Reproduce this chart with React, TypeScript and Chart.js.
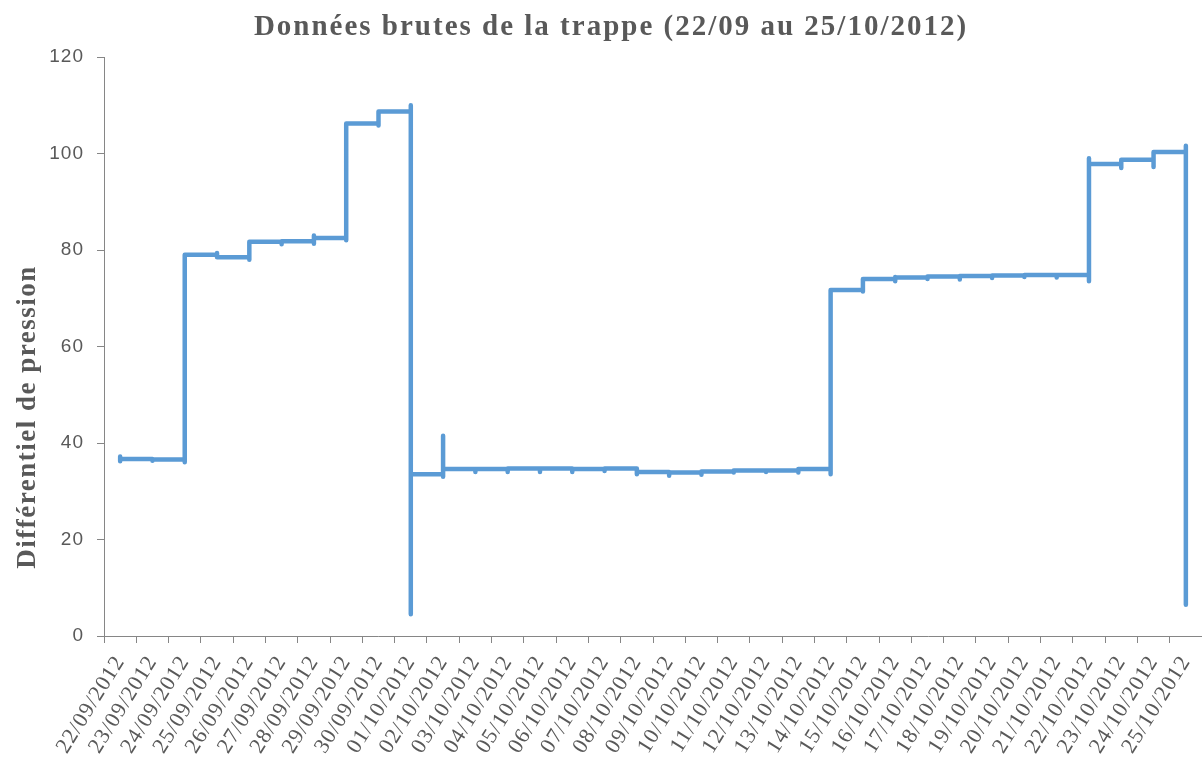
import React, { useEffect, useRef } from "react";
import { Chart, registerables } from "chart.js";

Chart.register(...registerables);

const chartTitle = "Données brutes de la trappe (22/09 au 25/10/2012)";
const yAxisTitle = "Différentiel de pression";

const dayLabels = [
  "22/09/2012", "23/09/2012", "24/09/2012", "25/09/2012", "26/09/2012",
  "27/09/2012", "28/09/2012", "29/09/2012", "30/09/2012", "01/10/2012",
  "02/10/2012", "03/10/2012", "04/10/2012", "05/10/2012", "06/10/2012",
  "07/10/2012", "08/10/2012", "09/10/2012", "10/10/2012", "11/10/2012",
  "12/10/2012", "13/10/2012", "14/10/2012", "15/10/2012", "16/10/2012",
  "17/10/2012", "18/10/2012", "19/10/2012", "20/10/2012", "21/10/2012",
  "22/10/2012", "23/10/2012", "24/10/2012", "25/10/2012",
];

// Readings recorded during each day (all plotted at that day's position)
const dayReadings: number[][] = [
  [37.2, 36.2, 36.7],
  [36.7, 36.3, 36.6],
  [36.6, 36.0, 79.0],
  [79.0, 79.4, 78.5],
  [78.5, 78.0, 81.7],
  [81.7, 81.2, 81.8],
  [81.8, 81.3, 83.0, 82.5],
  [82.5, 82.0, 106.2],
  [106.2, 105.8, 108.7],
  [108.7, 110.0, 4.5, 12.0, 33.5],
  [33.5, 33.0, 41.5, 34.6],
  [34.6, 34.0, 34.6],
  [34.6, 34.0, 34.7],
  [34.7, 34.0, 34.7],
  [34.7, 34.0, 34.6],
  [34.6, 34.2, 34.7],
  [34.7, 33.5, 34.0],
  [34.0, 33.2, 33.9],
  [33.9, 33.4, 34.1],
  [34.1, 33.9, 34.3],
  [34.3, 34.0, 34.3],
  [34.3, 33.9, 34.6],
  [34.6, 33.5, 55.0, 71.7],
  [71.7, 71.4, 74.0],
  [74.0, 73.5, 74.4, 74.3],
  [74.3, 74.0, 74.5],
  [74.5, 73.9, 74.6],
  [74.6, 74.2, 74.7],
  [74.7, 74.4, 74.8],
  [74.8, 74.3, 74.8],
  [74.8, 73.5, 99.0, 97.8],
  [97.8, 97.0, 98.7],
  [98.7, 97.2, 100.3],
  [100.3, 101.6, 32.0, 9.0, 6.5],
];

const yTicks = [0, 20, 40, 60, 80, 100, 120];

export default function App() {
  const ref = useRef<HTMLCanvasElement>(null);

  useEffect(() => {
    if (!ref.current) return;
    const points: { x: string; y: number }[] = [];
    dayReadings.forEach((vals, i) => {
      vals.forEach((v) => points.push({ x: dayLabels[i], y: v }));
    });

    const textPlugin = {
      id: "textPlugin",
      beforeDraw(chart: any) {
        const ctx = chart.ctx;
        ctx.save();
        ctx.fillStyle = "#ffffff";
        ctx.fillRect(0, 0, chart.width, chart.height);
        ctx.restore();
        (ctx as any).letterSpacing = "1px";
      },
      afterDraw(chart: any) {
        const ctx = chart.ctx;
        (ctx as any).letterSpacing = "0px";
        ctx.save();
        ctx.fillStyle = "#595959";
        ctx.textAlign = "center";
        ctx.textBaseline = "middle";
        // chart title
        ctx.font = 'bold 29px "Liberation Serif"';
        (ctx as any).letterSpacing = "2px";
        ctx.fillText(chartTitle, 611, 28);
        // y-axis title
        ctx.translate(28, 417);
        ctx.rotate(-Math.PI / 2);
        ctx.font = 'bold 27px "Liberation Serif"';
        (ctx as any).letterSpacing = "1.5px";
        ctx.fillText(yAxisTitle, 0, 0);
        ctx.restore();
        (ctx as any).letterSpacing = "0px";
      },
    };

    const chart = new Chart(ref.current, {
      type: "line",
      data: {
        labels: dayLabels,
        datasets: [
          {
            data: points as any,
            borderColor: "#5B9BD5",
            borderWidth: 4.5,
            pointRadius: 0,
            tension: 0,
            fill: false,
            borderJoinStyle: "round",
            borderCapStyle: "round",
          },
        ],
      },
      options: {
        animation: false,
        responsive: false,
        devicePixelRatio: 1,
        layout: { padding: { left: 18, right: 0, top: 57, bottom: 0 } },
        plugins: {
          legend: { display: false },
          tooltip: { enabled: false },
          title: { display: false },
        },
        scales: {
          x: {
            type: "category",
            offset: true,
            grid: {
              offset: true,
              drawOnChartArea: false,
              tickLength: 7,
              color: "#868686",
            },
            border: { color: "#868686", width: 1 },
            ticks: {
              autoSkip: false,
              minRotation: 58,
              maxRotation: 58,
              color: "#595959",
              font: { family: "Liberation Serif", size: 22 },
              padding: 8,
            },
            afterFit: (s: any) => {
              s.height = 137;
              s.paddingLeft = 0;
              s.paddingRight = 0;
            },
          },
          y: {
            min: 0,
            max: 120,
            afterBuildTicks: (s: any) => {
              s.ticks = yTicks.map((v) => ({ value: v }));
            },
            ticks: {
              color: "#595959",
              font: { family: "Liberation Sans", size: 19 },
              padding: 13,
            },
            grid: { drawOnChartArea: false, tickLength: 7, color: "#868686" },
            border: { color: "#868686", width: 1 },
            afterFit: (s: any) => {
              s.width = 86;
            },
          },
        },
      },
      plugins: [textPlugin],
    });
    return () => chart.destroy();
  }, []);

  return (
    <div style={{ position: "absolute", left: 0, top: 0, width: 1202, height: 773 }}>
      <canvas ref={ref} width={1202} height={773} />
    </div>
  );
}
